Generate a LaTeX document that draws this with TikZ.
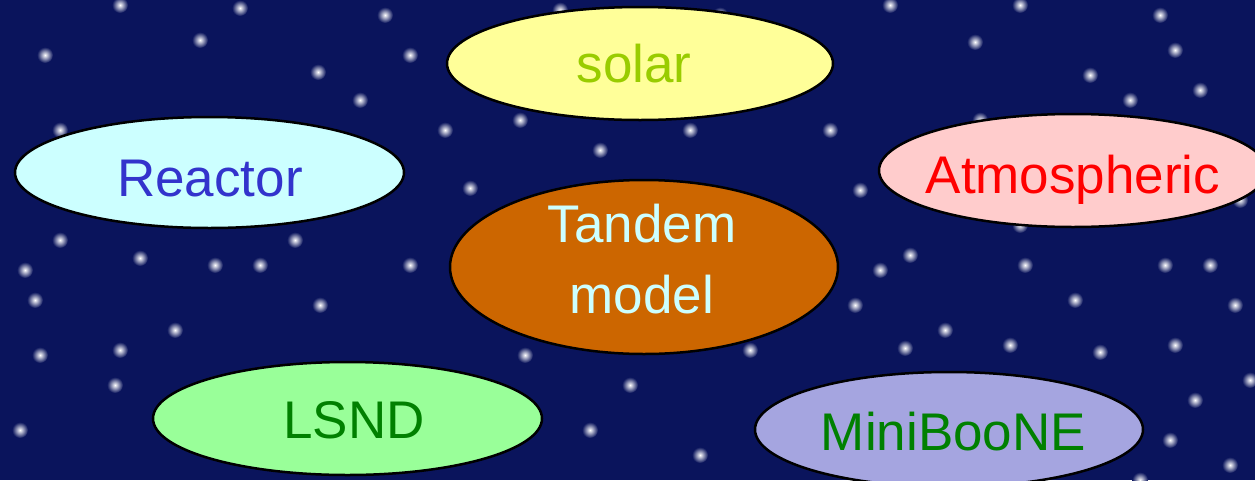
\documentclass[tikz,border=0pt]{standalone}
\usepackage{fontspec}
\setmainfont{Liberation Sans}
\usetikzlibrary{shapes.geometric}
\definecolor{bgnavy}{RGB}{10,20,92}
\definecolor{solarfill}{RGB}{255,255,153}
\definecolor{solartext}{RGB}{153,204,0}
\definecolor{reactfill}{RGB}{204,255,255}
\definecolor{reacttext}{RGB}{51,51,204}
\definecolor{atmfill}{RGB}{255,204,204}
\definecolor{tandfill}{RGB}{204,102,0}
\definecolor{tandtext}{RGB}{204,255,255}
\definecolor{lsndfill}{RGB}{153,255,153}
\definecolor{darkgreen}{RGB}{0,128,0}
\definecolor{minifill}{RGB}{165,165,224}
\tikzset{
  oval/.style={ellipse, draw=black, line width=2.5pt, inner sep=0pt},
  lbl/.style={anchor=base, inner sep=0pt, font=\fontsize{53}{70}\selectfont},
  star/.style={circle, inner sep=0pt, minimum size=16pt, inner color=white, outer color=bgnavy}
}
\begin{document}
\begin{tikzpicture}[x=1pt,y=-1pt]
\fill[bgnavy] (0,0) rectangle (1255,480);
\useasboundingbox (0,0) rectangle (1255,480);
% stars
\foreach \sx/\sy in {240/8,120/5,385/15,318/72,45/55,360/100,200/40,410/55,
  890/5,1020/5,1160/15,1175/50,1090/75,1130/100,975/42,860/190,910/255,
  1025/265,1075/300,1210/265,1165/265,1235/305,1175/345,1100/352,1010/345,
  945/330,905/348,855/305,880/270,630/385,590/430,700/455,525/355,470/188,
  140/258,215/265,260/265,295/240,320/305,410/265,175/330,120/350,40/355,
  25/270,60/240,85/200,20/430,115/385,35/300,750/350,1195/400,1170/440,
  1230/465,560/10,690/130,830/130,520/120,600/150,60/130,1240/200,1200/90,
  980/120,720/15,445/130,300/130,1020/225,1110/210,1250/380,1140/480}
{
  \node[star] at (\sx,\sy) {};
}
% ellipses
\node[oval, fill=solarfill, minimum width=386pt, minimum height=113pt] (solar) at (640,63.5) {};
\node[oval, fill=reactfill, minimum width=389pt, minimum height=111pt] (reactor) at (209.5,172.5) {};
\node[oval, fill=atmfill, minimum width=388pt, minimum height=113pt] (atm) at (1073,170.5) {};
\node[oval, fill=tandfill, minimum width=388pt, minimum height=174pt] (tandem) at (644,267) {};
\node[oval, fill=lsndfill, minimum width=389pt, minimum height=113pt] (lsnd) at (347.5,418.5) {};
\node[oval, fill=minifill, minimum width=388pt, minimum height=115pt] (mini) at (949,429.5) {};
% labels
\node[lbl, text=solartext] (solartxt) at (634,82) {solar};
\node[lbl, text=reacttext] (reacttxt) at (210,196) {Reactor};
\node[lbl, text=red] (atmtxt) at (1073,193) {Atmospheric};
\node[lbl, text=tandtext] (tandtxt1) at (642,242) {Tandem};
\node[lbl, text=tandtext] (tandtxt2) at (642,313) {model};
\node[lbl, text=darkgreen] (lsndtxt) at (354,438) {LSND};
\node[lbl, text=darkgreen] (minitxt) at (953.5,450) {MiniBooNE};
\end{tikzpicture}
\end{document}
